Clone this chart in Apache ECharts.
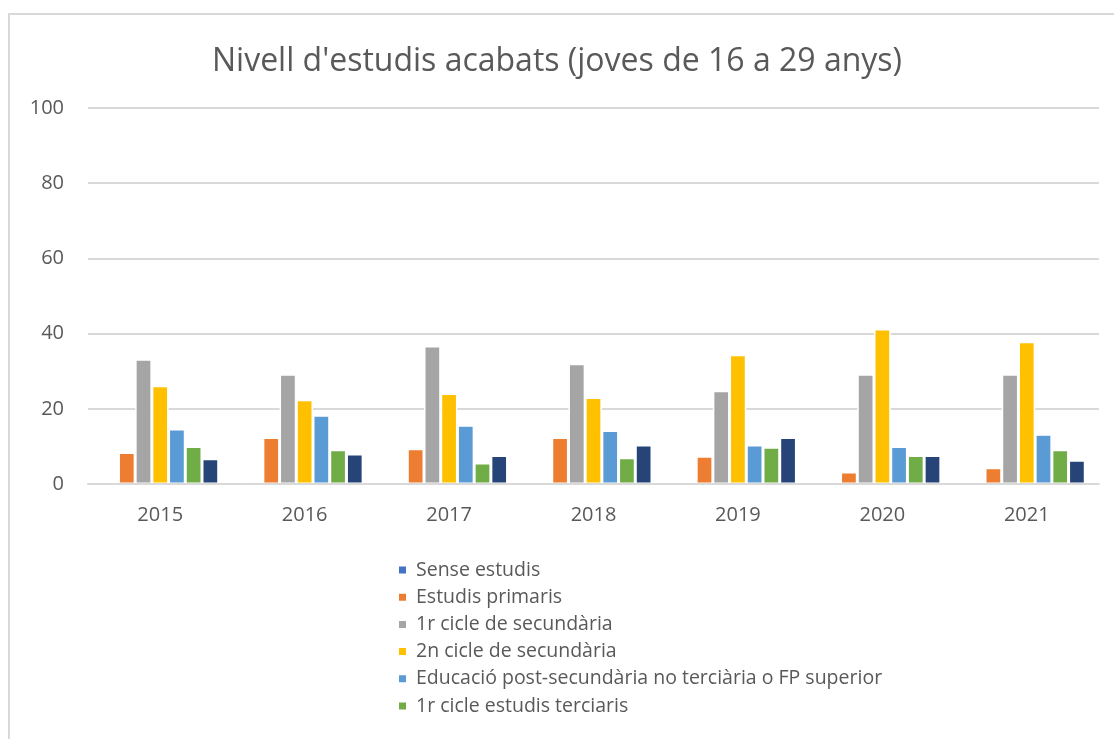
<!DOCTYPE html>
<html>
<head>
<meta charset="utf-8">
<script src="https://cdn.jsdelivr.net/npm/echarts@6/dist/echarts.min.js"></script>
<style>
  html, body { margin: 0; padding: 0; background: #fff; }
  #main { width: 1114px; height: 739px; }
</style>
</head>
<body>
<div id="main"></div>
<script>
// anys
var years = ['2015', '2016', '2017', '2018', '2019', '2020', '2021'];

// valors llegits del gràfic (%)
var senseEstudis = [0, 0.5, 0, 0, 0, 0, 0];
var estudisPrimaris = [8.4, 12.4, 9.4, 12.4, 7.4, 3.2, 4.3];
var primerCicleSec = [33.2, 29.2, 36.7, 32.0, 24.8, 29.2, 29.2];
var segonCicleSec = [26.1, 22.4, 24.1, 23.0, 34.4, 41.2, 37.8];
var postSecundaria = [14.6, 18.3, 15.6, 14.2, 10.4, 10.0, 13.2];
var primerCicleTer = [10.0, 9.1, 5.6, 7.0, 9.8, 7.6, 9.1];
var segonCicleTer = [6.7, 8.0, 7.6, 10.4, 12.4, 7.6, 6.3];

var seriesNames = [
    'Sense estudis',
    'Estudis primaris',
    '1r cicle de secundària',
    '2n cicle de secundària',
    'Educació post-secundària no terciària o FP superior',
    '1r cicle estudis terciaris',
    '2n cicle estudis terciaris'
];
var seriesData = [senseEstudis, estudisPrimaris, primerCicleSec, segonCicleSec,
    postSecundaria, primerCicleTer, segonCicleTer];
var colors = ['#4472C4', '#ED7D31', '#A5A5A5', '#FFC000', '#5B9BD5', '#70AD47', '#264478'];

var font = '"Open Sans", Lato, sans-serif';
var textColor = '#595959';

var myChart = echarts.init(document.getElementById('main'));

myChart.setOption({
    animation: false,
    color: colors,
    title: {
        text: "Nivell d'estudis acabats (joves de 16 a 29 anys)",
        left: 'center',
        top: 41,
        textStyle: { fontFamily: font, fontSize: 32, fontWeight: 'normal', color: textColor }
    },
    graphic: [{
        type: 'rect',
        shape: { x: 9, y: 14, width: 1200, height: 800 },
        style: { fill: 'none', stroke: '#d9d9d9', lineWidth: 2 }
    }],
    legend: {
        orient: 'vertical',
        left: 392,
        top: 555,
        icon: 'rect',
        itemWidth: 9,
        itemHeight: 9,
        itemGap: 7.2,
        data: seriesNames.slice(0, 6),
        textStyle: { fontFamily: font, fontSize: 19.5, lineHeight: 20, color: textColor, padding: [0, 0, 0, 4] }
    },
    grid: { left: 88, right: 15, top: 108, bottom: 255 },
    xAxis: {
        type: 'category',
        data: years,
        z: 5,
        axisTick: { show: false },
        axisLine: { lineStyle: { color: '#d9d9d9', width: 2 } },
        axisLabel: { fontFamily: font, fontSize: 20, color: textColor, margin: 21 }
    },
    yAxis: {
        type: 'value',
        min: 0,
        max: 100,
        interval: 20,
        axisLine: { show: false },
        axisTick: { show: false },
        axisLabel: { fontFamily: font, fontSize: 20, color: textColor, margin: 24 },
        splitLine: { lineStyle: { color: '#d9d9d9', width: 2 } }
    },
    series: seriesNames.map(function (name, i) {
        return {
            name: name,
            type: 'bar',
            data: seriesData[i],
            barGap: '0%',
            barCategoryGap: '19%',
            itemStyle: { borderColor: '#fff', borderWidth: 1.5 }
        };
    })
});
</script>
</body>
</html>
